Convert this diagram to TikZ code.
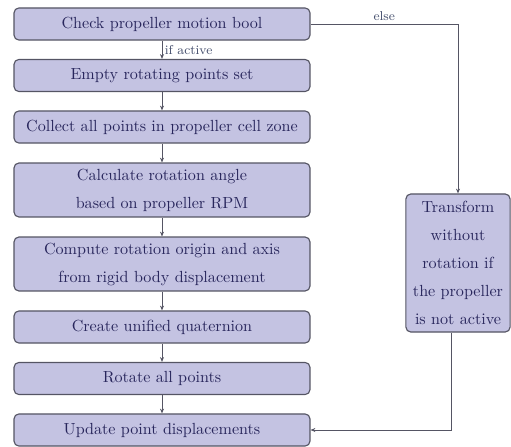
\documentclass[tikz,border=0pt]{standalone}
\usepackage{amssymb}
\usepackage{amsmath}
\usetikzlibrary{arrows.meta}

\definecolor{boxfill}{RGB}{196,195,226}
\definecolor{boxline}{RGB}{85,85,100}
\definecolor{boxtext}{RGB}{40,38,92}
\definecolor{labeltext}{RGB}{70,80,110}

\tikzset{
  stepbox/.style={draw=boxline, fill=boxfill, line width=0.7pt, rounded corners=3pt,
    text=boxtext, minimum width=183.8pt, minimum height=19.9pt, align=center,
    font=\fontsize{10}{17.4}\selectfont},
  sidebox/.style={stepbox, minimum width=64.6pt, minimum height=85.7pt,
    text width=58pt},
  flow/.style={draw=boxline, line width=0.6pt, -{Stealth[length=3pt,width=2.5pt]}},
  flowlabel/.style={font=\footnotesize, text=labeltext, inner sep=1.5pt},
}

\begin{document}
\begin{tikzpicture}[x=0.621pt, y=-0.621pt]

\useasboundingbox (0, 0) rectangle (511, 447);

\node[stepbox] (check) at (162, 24) {Check propeller motion bool};
\node[stepbox] (empty) at (162, 75.5) {Empty rotating points set};
\node[stepbox] (collect) at (162, 127) {Collect all points in propeller cell zone};
\node[stepbox, minimum height=33.5pt] (angle) at (162, 190) {Calculate rotation angle\\based on propeller RPM};
\node[stepbox, minimum height=33.5pt] (origin) at (162, 264) {Compute rotation origin and axis\\from rigid body displacement};
\node[stepbox] (quat) at (162, 327) {Create unified quaternion};
\node[stepbox] (rotate) at (162, 378.5) {Rotate all points};
\node[stepbox] (update) at (162, 430) {Update point displacements};

\node[sidebox] (trans) at (458, 263) {Transform\\without\\rotation if\\the propeller\\is not active};


\draw[flow] (check) to node[flowlabel, right] {if active} (empty);
\draw[flow] (empty) to (collect);
\draw[flow] (collect) to (angle);
\draw[flow] (angle) to (origin);
\draw[flow] (origin) to (quat);
\draw[flow] (quat) to (rotate);
\draw[flow] (rotate) to (update);

\draw[flow] (check.east) -| node[flowlabel, pos=0.25, above] {else} (trans.north);
\draw[flow] ([xshift=-4pt]trans.south) |- (update.east);

\end{tikzpicture}
\end{document}
